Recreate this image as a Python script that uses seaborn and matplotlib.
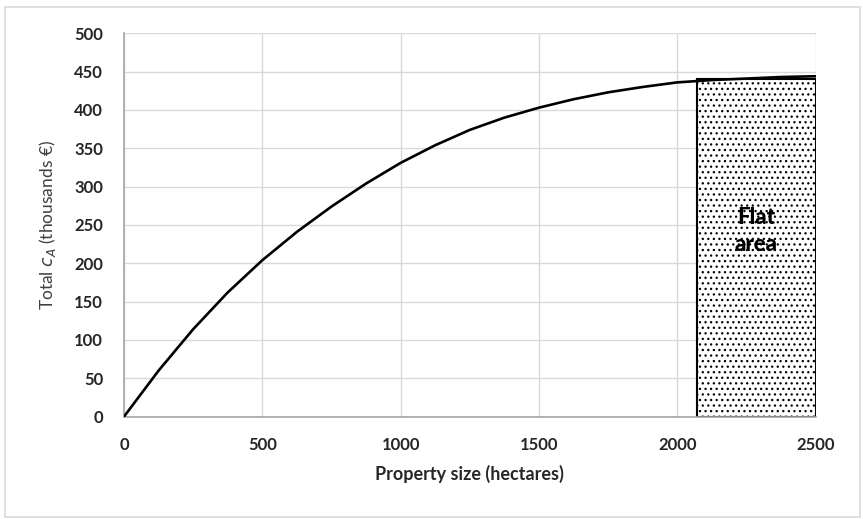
import matplotlib
matplotlib.use("Agg")
import matplotlib.pyplot as plt
from matplotlib.patches import Rectangle
import seaborn as sns
import pandas as pd

# values (every 125 ha)
size_ha = [0, 125, 250, 375, 500, 625, 750, 875, 1000, 1125, 1250,
           1375, 1500, 1625, 1750, 1875, 2000, 2125, 2250, 2375, 2500]
total_ca = [0, 60, 114, 162, 204, 241, 274, 304, 331, 354, 374,
            390, 403, 414, 423, 430, 436, 439, 441, 443, 444]

flat_start = 2073
flat_end = 2500
flat_top = 440
flat_label = "Flat\narea"

x_ticks = [0, 500, 1000, 1500, 2000, 2500]
y_ticks = [0, 50, 100, 150, 200, 250, 300, 350, 400, 450, 500]

df = pd.DataFrame({"size": size_ha, "total": total_ca})

sns.set_theme(style="white")
plt.rcParams["font.family"] = ["Lato", "DejaVu Sans"]
plt.rcParams["hatch.color"] = "#333333"
plt.rcParams["hatch.linewidth"] = 0.9

fig = plt.figure(figsize=(8.63, 5.19), dpi=100)
ax = fig.add_axes([0.1437, 0.1973, 0.8013, 0.7385])

# outer frame like the exported chart area
fig.patches.append(
    Rectangle((5 / 863, 2 / 519), 855 / 863, 510 / 519, transform=fig.transFigure,
              fill=False, edgecolor="#d9d9d9", linewidth=1.2)
)

ax.bar(flat_start, flat_top, width=flat_end - flat_start, align="edge",
       facecolor="white", edgecolor="black", hatch="...", linewidth=1.5, zorder=2)
sns.lineplot(data=df, x="size", y="total", color="black", linewidth=1.9, ax=ax, zorder=3)

ax.text((flat_start + flat_end) / 2, 242, flat_label, ha="center", va="center",
        fontsize=16, fontweight="black", color="black", linespacing=1.35, zorder=4)

ax.set_xlim(0, 2500)
ax.set_ylim(0, 500)
ax.set_xticks(x_ticks)
ax.set_yticks(y_ticks)
ax.grid(True, color="#d9d9d9", linewidth=1.0)
ax.set_axisbelow(True)
for side in ["top", "right"]:
    ax.spines[side].set_visible(False)
for side in ["left", "bottom"]:
    ax.spines[side].set_color("#a6a6a6")
    ax.spines[side].set_linewidth(1.2)
ax.tick_params(axis="both", length=0, labelsize=12, colors="#262626")
ax.tick_params(axis="y", pad=15)
ax.tick_params(axis="x", pad=15)
for lbl in ax.get_xticklabels() + ax.get_yticklabels():
    lbl.set_fontweight("bold")

ax.set_xlabel("Property size (hectares)", fontsize=13, fontweight="bold",
              color="#262626", labelpad=8)
ax.set_ylabel("Total $c_A$ (thousands €)", fontsize=12.5, color="#404040", labelpad=12)

fig.savefig("out.png", dpi=100)
